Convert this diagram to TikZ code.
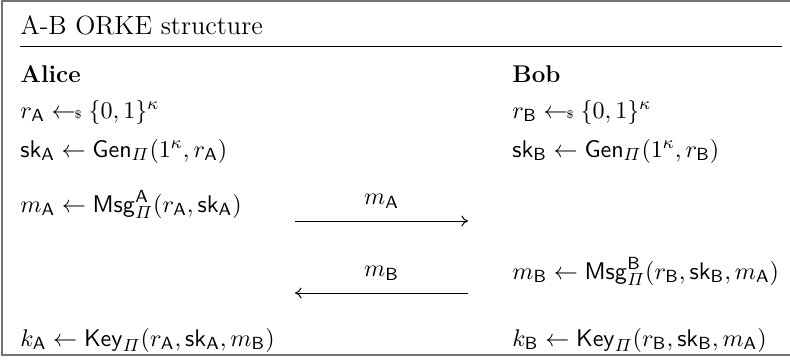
\documentclass[tikz,border=0pt]{standalone}
\usepackage{amsmath,amssymb}
\usepackage{xcolor}
\usetikzlibrary{arrows.meta,positioning}

\newcommand{\smpl}{\mathrel{\leftarrow\!\!{\scriptscriptstyle\$}}}
\newcommand{\pa}{\mathsf{A}}
\newcommand{\pb}{\mathsf{B}}
\newcommand{\skey}{\mathsf{sk}}
\newcommand{\genalg}{\mathsf{Gen}_{\varPi}}
\newcommand{\msgalg}[1]{\mathsf{Msg}^{#1}_{\varPi}}
\newcommand{\keyalg}{\mathsf{Key}_{\varPi}}

\begin{document}
\begin{tikzpicture}[x=0.4545pt, y=-0.4545pt,
    row/.style={anchor=base west, inner sep=0pt, font=\fontsize{11}{13}\selectfont},
    arr/.style={-{To[length=3pt,width=5pt]}, line width=0.45pt},
    frame/.style={draw=black!55, line width=0.8pt}
]
\useasboundingbox (0,0) rectangle (790,359);
\draw[frame] (790,1) -- (2,1) -- (2,355) -- (790,355);
\node[row, font=\fontsize{12}{14}\selectfont] (title) at (20,34) {A-B ORKE structure};
\draw[line width=0.6pt] (20,46.5) -- (782,46.5);
% Alice
\node[row] (alice) at (20,82) {\textbf{Alice}};
\node[row] (a1) at (20,118) {$r_\pa \smpl \{0,1\}^\kappa$};
\node[row] (a2) at (20,157) {$\skey_\pa \leftarrow \genalg(1^\kappa, r_\pa)$};
\node[row] (a3) at (20,212) {$m_\pa \leftarrow \msgalg{\pa}(r_\pa, \skey_\pa)$};
\node[row] (a4) at (20,346) {$k_\pa \leftarrow \keyalg(r_\pa, \skey_\pa, m_\pb)$};
% Bob
\node[row] (bob) at (512,82) {\textbf{Bob}};
\node[row] (b1) at (512,118) {$r_\pb \smpl \{0,1\}^\kappa$};
\node[row] (b2) at (512,157) {$\skey_\pb \leftarrow \genalg(1^\kappa, r_\pb)$};
\node[row] (b3) at (512,279) {$m_\pb \leftarrow \msgalg{\pb}(r_\pb, \skey_\pb, m_\pa)$};
\node[row] (b4) at (512,346) {$k_\pb \leftarrow \keyalg(r_\pb, \skey_\pb, m_\pa)$};
% messages
\coordinate (sendA) at (295,221);
\coordinate (recvA) at (468,221);
\coordinate (sendB) at (468,293);
\coordinate (recvB) at (295,293);
\draw[arr] (sendA) -- node[above=2pt, font=\fontsize{11}{13}\selectfont] (lblA) {$m_\pa$} (recvA);
\draw[arr] (sendB) -- node[above=2pt, font=\fontsize{11}{13}\selectfont] (lblB) {$m_\pb$} (recvB);
\end{tikzpicture}
\end{document}
